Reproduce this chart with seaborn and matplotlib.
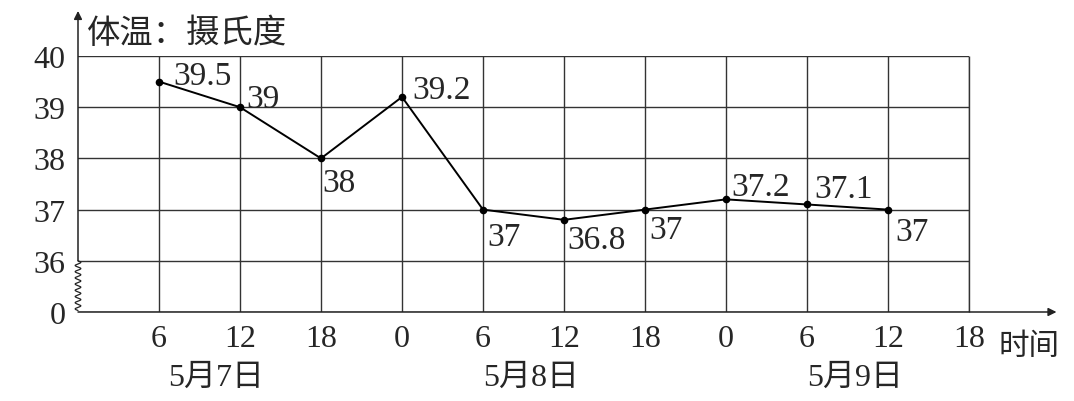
import numpy as np
import pandas as pd
import matplotlib
matplotlib.use('Agg')
import matplotlib.pyplot as plt
import seaborn as sns

# 数据
hours = ['6', '12', '18', '0', '6', '12', '18', '0', '6', '12', '18']
temps = [39.5, 39, 38, 39.2, 37, 36.8, 37, 37.2, 37.1, 37]
temp_labels = ['39.5', '39', '38', '39.2', '37', '36.8', '37', '37.2', '37.1', '37']
y_ticklabels = ['0', '36', '37', '38', '39', '40']
days = ['5月7日', '5月8日', '5月9日']
day_pos = [1.7, 5.6, 9.6]

# 标签偏移 (像素)
label_off = [(14, -2), (6, 0), (1, -33), (10, -1), (4, -35),
             (3, -28), (4, -28), (5, 4), (7, 7), (7, -30)]

sns.set_style('white')
plt.rcParams['font.family'] = ['Liberation Serif', 'Noto Sans CJK SC']

base = 35  # 36 以下折断, 0 画在 35 的位置
df = pd.DataFrame({'pos': np.arange(1, len(temps) + 1),
                   'y': np.array(temps) - base})

fig = plt.figure(figsize=(10.74, 4.02), dpi=100)
ax = fig.add_axes([78 / 1074, 89 / 402, 891 / 1074, 256 / 402])

sns.lineplot(data=df, x='pos', y='y', color='black', linewidth=1.4,
             marker='o', markersize=5.5, markeredgewidth=0, ax=ax, zorder=5)

ax.set_xlim(0, 11)
ax.set_ylim(0, 5)
ax.set_xticks(range(1, 12))
ax.set_xticklabels(hours)
ax.set_yticks(range(0, 6))
ax.set_yticklabels(y_ticklabels)
ax.tick_params(length=0, labelsize=23)
ax.tick_params(axis='x', pad=9)
ax.tick_params(axis='y', pad=9)
ax.grid(True, color='#333333', linewidth=1.0)
ax.vlines(11, 0, 5, color='#333333', linewidth=1.0, clip_on=False)
for s in ax.spines.values():
    s.set_visible(False)
ax.set_xlabel('')
ax.set_ylabel('')

# 数值标注
for x, t, lab, (dx, dy) in zip(df['pos'], df['y'], temp_labels, label_off):
    ax.annotate(lab, (x, t), xytext=(dx, dy), textcoords='offset pixels',
                ha='left', va='baseline', fontsize=24, zorder=6)

# 坐标轴箭头
ax.annotate('', xy=(12.08, 0), xytext=(0, 0),
            arrowprops=dict(arrowstyle='-|>', color='#222', lw=1.1,
                            mutation_scale=12, shrinkA=0, shrinkB=0),
            annotation_clip=False)
ax.annotate('', xy=(0, 5.88), xytext=(0, 1),
            arrowprops=dict(arrowstyle='-|>', color='#222', lw=1.1,
                            mutation_scale=12, shrinkA=0, shrinkB=0),
            annotation_clip=False)

# 折断号
t = np.linspace(0, 1, 300)
zx = 0.035 * np.sin(2 * np.pi * 8 * t)
zy = 1 - t * 0.97
ax.plot(zx, zy, color='#222', lw=0.9, clip_on=False)

# 文字
ax.text(0.11, 5.45, '体温：摄氏度', fontsize=24, va='center', ha='left')
ax.text(11.36, -0.68, '时间', fontsize=22, va='center', ha='left')
for d, p in zip(days, day_pos):
    ax.text(p, -1.27, d, fontsize=23, va='center', ha='center')

fig.savefig('out.png', dpi=100)
